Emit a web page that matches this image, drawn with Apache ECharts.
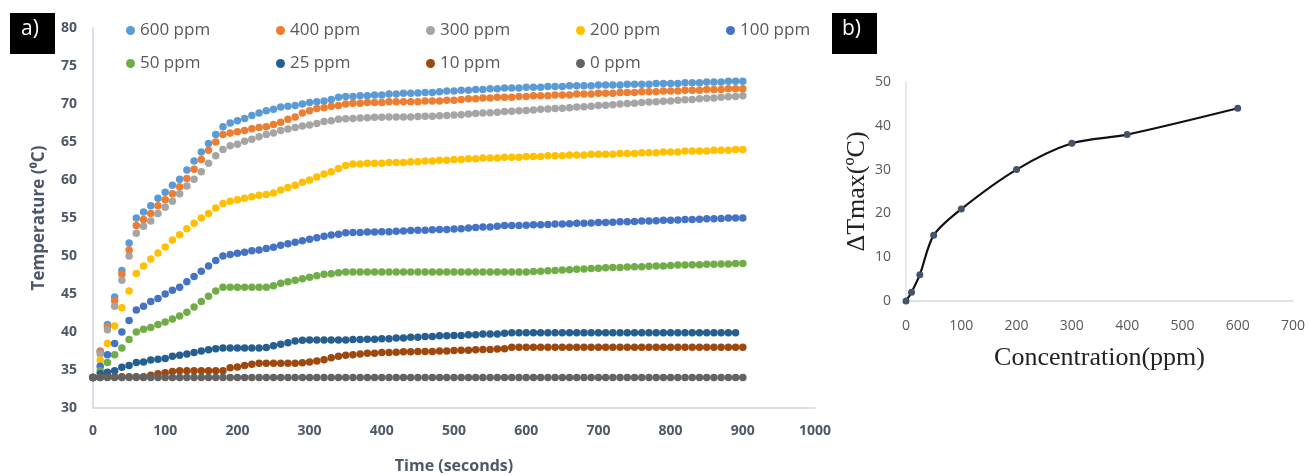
<!DOCTYPE html>
<html>
<head>
<meta charset="utf-8">
<script src="https://cdn.jsdelivr.net/npm/echarts@6/dist/echarts.min.js"></script>
<style>
    html, body {margin: 0; padding: 0; background: #fff;}
    #chart1 {width: 1309px; height: 475px;}
</style>
</head>
<body>
<div id="chart1"></div>
<script>
// a) 时间 (s)
var times = [0, 10, 20, 30, 40, 50, 60, 70, 80, 90, 100, 110, 120, 130, 140, 150, 160, 170, 180, 190,
    200, 210, 220, 230, 240, 250, 260, 270, 280, 290, 300, 310, 320, 330, 340, 350, 360, 370, 380, 390,
    400, 410, 420, 430, 440, 450, 460, 470, 480, 490, 500, 510, 520, 530, 540, 550, 560, 570, 580, 590,
    600, 610, 620, 630, 640, 650, 660, 670, 680, 690, 700, 710, 720, 730, 740, 750, 760, 770, 780, 790,
    800, 810, 820, 830, 840, 850, 860, 870, 880, 890, 900];

var names = ['600 ppm', '400 ppm', '300 ppm', '200 ppm', '100 ppm', '50 ppm', '25 ppm', '10 ppm', '0 ppm'];
var colors = ['#5B9BD5', '#ED7D31', '#A5A5A5', '#FFC000', '#4472C4', '#70AD47', '#255E91', '#9E480E', '#636363'];

var t600 = [34, 37.5, 41.0, 44.6, 48.1, 51.7, 55.0, 55.8, 56.6, 57.6, 58.4, 59.3, 60.1, 61.3, 62.5, 63.7, 64.8, 66.0, 67.0, 67.5,
    67.8, 68.1, 68.5, 68.8, 69.1, 69.3, 69.6, 69.7, 69.8, 70.0, 70.2, 70.3, 70.4, 70.6, 70.9, 71.0, 71.0, 71.1, 71.1, 71.2,
    71.2, 71.3, 71.3, 71.4, 71.4, 71.45, 71.5, 71.5, 71.6, 71.7, 71.7, 71.8, 71.8, 71.9, 71.9, 72.0, 72.0, 72.1, 72.1, 72.1,
    72.2, 72.2, 72.2, 72.3, 72.3, 72.3, 72.4, 72.4, 72.4, 72.4, 72.5, 72.5, 72.5, 72.5, 72.6, 72.6, 72.6, 72.6, 72.7, 72.7,
    72.7, 72.7, 72.8, 72.8, 72.8, 72.9, 72.9, 72.9, 73.0, 73.0, 73.0];
var t400 = [34, 37.4, 40.7, 44.1, 47.6, 50.8, 54.0, 54.8, 55.6, 56.6, 57.4, 58.2, 59.1, 60.2, 61.4, 62.7, 63.9, 65.0, 66.0, 66.2,
    66.35, 66.5, 66.75, 66.9, 67.0, 67.3, 67.6, 68.0, 68.3, 68.8, 69.1, 69.4, 69.5, 69.7, 69.8, 70.0, 70.1, 70.1, 70.2, 70.2,
    70.2, 70.3, 70.3, 70.3, 70.3, 70.3, 70.4, 70.4, 70.4, 70.5, 70.5, 70.6, 70.7, 70.7, 70.8, 70.8, 70.9, 70.9, 70.9, 71.0,
    71.0, 71.1, 71.1, 71.1, 71.2, 71.2, 71.2, 71.3, 71.3, 71.3, 71.4, 71.4, 71.4, 71.5, 71.5, 71.5, 71.6, 71.6, 71.6, 71.7,
    71.7, 71.7, 71.8, 71.8, 71.8, 71.9, 71.9, 71.9, 72.0, 72.0, 72.0];
var t300 = [34, 37.1, 40.3, 43.4, 46.8, 50.0, 53.0, 53.9, 54.6, 55.6, 56.4, 57.2, 58.2, 59.2, 60.1, 61.1, 62.2, 63.2, 64.0, 64.5,
    64.7, 65.1, 65.35, 65.7, 66.0, 66.2, 66.5, 66.7, 66.9, 67.1, 67.25, 67.45, 67.7, 67.8, 68.0, 68.05, 68.1, 68.15, 68.2, 68.25,
    68.25, 68.3, 68.3, 68.3, 68.3, 68.35, 68.4, 68.4, 68.45, 68.5, 68.55, 68.6, 68.7, 68.75, 68.8, 68.85, 68.9, 69.0, 69.05, 69.1,
    69.15, 69.2, 69.3, 69.35, 69.4, 69.45, 69.5, 69.6, 69.65, 69.7, 69.8, 69.85, 69.9, 70.0, 70.05, 70.1, 70.2, 70.25, 70.3, 70.35,
    70.4, 70.5, 70.55, 70.6, 70.7, 70.75, 70.8, 70.9, 70.95, 71.0, 71.1];
var t200 = [34, 36.3, 38.5, 40.8, 43.2, 45.4, 47.7, 48.7, 49.6, 50.4, 51.2, 52.1, 52.8, 53.6, 54.3, 55.0, 55.6, 56.3, 56.9, 57.2,
    57.4, 57.6, 57.8, 58.0, 58.1, 58.3, 58.7, 59.0, 59.3, 59.7, 60.0, 60.4, 60.8, 61.1, 61.5, 61.9, 62.1, 62.1, 62.2, 62.2,
    62.2, 62.3, 62.3, 62.3, 62.4, 62.4, 62.5, 62.5, 62.6, 62.6, 62.7, 62.7, 62.8, 62.8, 62.9, 62.9, 62.9, 63.0, 63.0, 63.0,
    63.1, 63.1, 63.1, 63.2, 63.2, 63.2, 63.3, 63.3, 63.3, 63.4, 63.4, 63.4, 63.4, 63.5, 63.5, 63.5, 63.6, 63.6, 63.6, 63.7,
    63.7, 63.7, 63.8, 63.8, 63.8, 63.8, 63.9, 63.9, 63.9, 64.0, 64.0];
var t100 = [34, 35.5, 37.0, 38.5, 40.0, 41.5, 42.9, 43.4, 44.0, 44.4, 45.0, 45.5, 45.9, 46.6, 47.3, 48.0, 48.7, 49.4, 50.0, 50.2,
    50.35, 50.5, 50.7, 50.8, 51.0, 51.15, 51.4, 51.6, 51.8, 52.0, 52.2, 52.4, 52.6, 52.75, 52.85, 53.05, 53.1, 53.1, 53.15, 53.15,
    53.2, 53.2, 53.25, 53.3, 53.35, 53.4, 53.4, 53.45, 53.5, 53.5, 53.55, 53.6, 53.7, 53.75, 53.8, 53.8, 53.9, 54.0, 54.0, 54.0,
    54.05, 54.1, 54.1, 54.15, 54.2, 54.2, 54.25, 54.3, 54.3, 54.35, 54.4, 54.4, 54.45, 54.5, 54.5, 54.55, 54.6, 54.6, 54.65, 54.7,
    54.7, 54.75, 54.8, 54.8, 54.85, 54.9, 54.9, 54.95, 55.0, 55.0, 55.0];
var t50 = [34, 34.9, 36.0, 37.0, 37.9, 39.0, 40.0, 40.35, 40.6, 41.0, 41.3, 41.7, 42.1, 42.6, 43.3, 44.0, 44.7, 45.4, 45.9, 45.9,
    45.9, 45.9, 45.9, 45.9, 45.9, 46.1, 46.4, 46.6, 46.8, 47.0, 47.2, 47.4, 47.6, 47.65, 47.8, 47.9, 47.9, 47.9, 47.9, 47.9,
    47.9, 47.9, 47.9, 47.9, 47.9, 47.9, 47.9, 47.9, 47.9, 47.9, 47.9, 47.9, 47.9, 47.9, 47.9, 47.9, 47.9, 47.9, 47.9, 47.9,
    47.9, 47.95, 48.0, 48.05, 48.1, 48.15, 48.2, 48.25, 48.3, 48.35, 48.4, 48.45, 48.5, 48.5, 48.55, 48.6, 48.6, 48.65, 48.7, 48.7,
    48.75, 48.8, 48.8, 48.85, 48.85, 48.9, 48.9, 48.95, 48.95, 49.0, 49.0];
// 25 ppm 只到 890 s
var t25 = [34, 34.5, 34.7, 34.9, 35.35, 35.6, 36.0, 36.05, 36.3, 36.4, 36.5, 36.8, 36.95, 37.1, 37.3, 37.5, 37.65, 37.8, 37.9, 37.9,
    37.9, 37.9, 37.9, 37.9, 37.95, 38.2, 38.4, 38.6, 38.8, 38.9, 38.95, 38.95, 38.95, 38.95, 38.95, 38.95, 39.0, 39.0, 39.05, 39.05,
    39.1, 39.1, 39.2, 39.2, 39.3, 39.3, 39.4, 39.4, 39.5, 39.5, 39.55, 39.55, 39.65, 39.65, 39.75, 39.75, 39.75, 39.85, 39.9, 39.9,
    39.9, 39.9, 39.9, 39.9, 39.9, 39.9, 39.9, 39.9, 39.9, 39.9, 39.9, 39.9, 39.9, 39.9, 39.9, 39.9, 39.9, 39.9, 39.9, 39.9,
    39.9, 39.9, 39.9, 39.9, 39.9, 39.9, 39.9, 39.9, 39.9, 39.9];
var t10 = [34, 34, 34.1, 34.1, 34.1, 34.1, 34.1, 34.1, 34.3, 34.5, 34.65, 34.8, 34.9, 34.9, 34.9, 34.9, 34.9, 34.9, 34.9, 35.3,
    35.4, 35.6, 35.75, 35.9, 35.9, 35.9, 35.9, 35.9, 35.9, 35.95, 36.05, 36.2, 36.35, 36.6, 36.8, 36.95, 37.0, 37.1, 37.2, 37.2,
    37.3, 37.3, 37.35, 37.4, 37.4, 37.45, 37.45, 37.45, 37.5, 37.5, 37.55, 37.6, 37.6, 37.65, 37.7, 37.7, 37.75, 37.8, 38.0, 38.0,
    38.0, 38.0, 38.0, 38.0, 38.0, 38.0, 38.0, 38.0, 38.0, 38.0, 38.0, 38.0, 38.0, 38.0, 38.0, 38.0, 38.0, 38.0, 38.0, 38.0,
    38.0, 38.0, 38.0, 38.0, 38.0, 38.0, 38.0, 38.0, 38.0, 38.0, 38.0];
var t0 = [34, 34, 34, 34, 34, 34, 34, 34, 34, 34, 34, 34, 34, 34, 34, 34, 34, 34, 34, 34,
    34, 34, 34, 34, 34, 34, 34, 34, 34, 34, 34, 34, 34, 34, 34, 34, 34, 34, 34, 34,
    34, 34, 34, 34, 34, 34, 34, 34, 34, 34, 34, 34, 34, 34, 34, 34, 34, 34, 34, 34,
    34, 34, 34, 34, 34, 34, 34, 34, 34, 34, 34, 34, 34, 34, 34, 34, 34, 34, 34, 34,
    34, 34, 34, 34, 34, 34, 34, 34, 34, 34, 34];

// b) 浓度与最大温升
var conc = [0, 10, 25, 50, 100, 200, 300, 400, 600];
var dTmax = [0, 2, 6, 15, 21, 30, 36, 38, 44];

(function () {
    var myChart = echarts.init(document.querySelector("#chart1"));
    var allTemps = [t600, t400, t300, t200, t100, t50, t25, t10, t0];

    var series = allTemps.map(function (vals, k) {
        return {
            name: names[k],
            type: 'scatter',
            xAxisIndex: 0,
            yAxisIndex: 0,
            symbolSize: 7.5,
            itemStyle: {color: colors[k], opacity: 1},
            data: vals.map(function (v, i) { return [times[i], v]; })
        };
    });
    series.push({
        type: 'line',
        xAxisIndex: 1,
        yAxisIndex: 1,
        smooth: 0.3,
        symbol: 'circle',
        symbolSize: 7,
        lineStyle: {color: '#111', width: 2.2},
        itemStyle: {color: '#44546A'},
        data: conc.map(function (c, i) { return [c, dTmax[i]]; })
    });

    var tickA = {color: '#4f5869', fontSize: 14, fontWeight: 'bold', fontFamily: 'Open Sans'};
    var tickB = {color: '#595959', fontSize: 14, fontFamily: 'Open Sans'};
    var plain = function (v) { return String(v); };

    // 图例：两行五列，每项单独定位
    var legends = names.map(function (n, k) {
        return {
            data: [n], left: 121 + (k % 5) * 150, top: k < 5 ? 17 : 50,
            icon: 'circle', itemWidth: 9, itemHeight: 9,
            textStyle: {color: '#595959', fontSize: 17, fontFamily: 'Open Sans'}
        };
    });

    option = {
        animation: false,
        grid: [
            {left: 93, top: 28, width: 722, height: 380, outerBoundsMode: 'none'},
            {left: 906, top: 82, width: 387, height: 219, outerBoundsMode: 'none'}
        ],
        legend: legends,
        xAxis: [
            {
                gridIndex: 0, type: 'value', min: 0, max: 1000, interval: 100,
                name: 'Time (seconds)', nameLocation: 'middle', nameGap: 50,
                nameTextStyle: {color: '#4f5869', fontSize: 16, fontWeight: 'bold', fontFamily: 'Open Sans'},
                axisLine: {lineStyle: {color: '#d0d5df', width: 1.5}},
                axisTick: {show: false}, splitLine: {show: false},
                axisLabel: Object.assign({margin: 16, formatter: plain}, tickA)
            },
            {
                gridIndex: 1, type: 'value', min: 0, max: 700, interval: 100,
                name: 'Concentration(ppm)', nameLocation: 'middle', nameGap: 44,
                nameTextStyle: {color: '#222', fontSize: 26, fontFamily: 'Liberation Serif'},
                axisLine: {lineStyle: {color: '#d9d9d9', width: 1.5}},
                axisTick: {show: false}, splitLine: {show: false},
                axisLabel: Object.assign({margin: 18, formatter: plain}, tickB)
            }
        ],
        yAxis: [
            {
                gridIndex: 0, type: 'value', min: 30, max: 80, interval: 5,
                name: 'Temperature (\u2070C)', nameLocation: 'middle', nameGap: 45,
                nameTextStyle: {color: '#4f5869', fontSize: 17, fontWeight: 'bold', fontFamily: 'Open Sans'},
                axisLine: {show: true, lineStyle: {color: '#d0d5df', width: 1.5}},
                axisTick: {show: false}, splitLine: {show: false},
                axisLabel: Object.assign({margin: 16}, tickA)
            },
            {
                gridIndex: 1, type: 'value', min: 0, max: 50, interval: 10,
                name: '\u0394Tmax(\u00baC)', nameLocation: 'middle', nameGap: 36,
                nameTextStyle: {color: '#222', fontSize: 26, fontFamily: 'Liberation Serif'},
                axisLine: {show: true, lineStyle: {color: '#e3e3e3', width: 1.5}},
                axisTick: {show: false}, splitLine: {show: false},
                axisLabel: Object.assign({margin: 15}, tickB)
            }
        ],
        graphic: [
            {type: 'rect', left: 10, top: 13, shape: {width: 45, height: 41}, style: {fill: '#000'}},
            {type: 'text', left: 21, top: 19, style: {text: 'a)', fill: '#fff', fontSize: 21, fontFamily: 'Open Sans'}},
            {type: 'rect', left: 832, top: 13, shape: {width: 45, height: 41}, style: {fill: '#000'}},
            {type: 'text', left: 842, top: 19, style: {text: 'b)', fill: '#fff', fontSize: 21, fontFamily: 'Open Sans'}}
        ],
        series: series
    };

    myChart.setOption(option);
    window.addEventListener("resize", function () {
        myChart.resize();
    });
})();
</script>
</body>
</html>
